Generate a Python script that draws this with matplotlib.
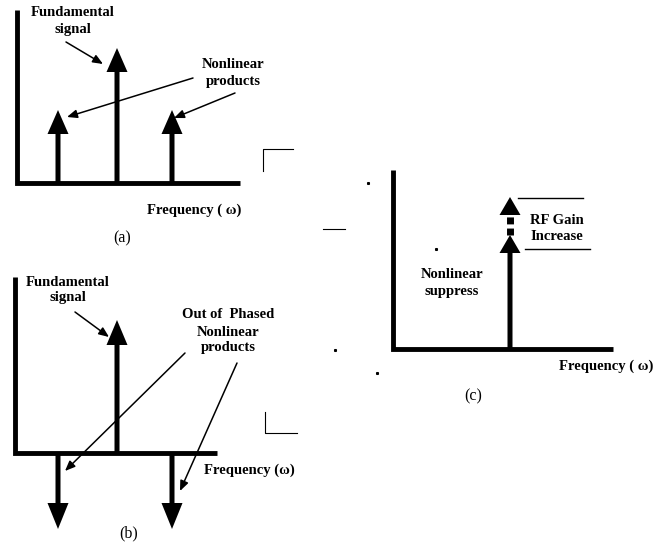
import matplotlib.pyplot as plt

# spike diagram data (pixel frame of the scanned figure)
# panel (a): fundamental + two nonlinear products
a_freq = [58, 117, 172]
a_amp = [73, 135, 73]
# panel (b): fundamental up, out-of-phase products down
b_freq = [58, 117, 172]
b_amp = [-76, 133, -76]
# panel (c): single tone with gain increase
c_freq = [510]
c_amp = [114]
c_gain = 38

W, H = 664, 545
fig = plt.figure(figsize=(W / 100, H / 100), dpi=100)
ax = fig.add_axes([0, 0, 1, 1])
ax.set_xlim(0, W)
ax.set_ylim(H, 0)
ax.axis('off')

BOLD = dict(family='Liberation Serif', fontweight='bold', fontsize=10.5, color='black')
REG = dict(family='Liberation Serif', fontsize=11.5, color='black')
LW_AX = 3.5


def spike(x, y0, amp, head_len=24):
    ax.arrow(x, y0, 0, -amp, width=5, head_width=21, head_length=head_len,
             length_includes_head=True, fc='black', ec='black', lw=0)


def pointer(x0, y0, x1, y1):
    ax.annotate('', xy=(x1, y1), xytext=(x0, y0),
                arrowprops=dict(arrowstyle='-|>,head_length=0.6,head_width=0.25',
                                lw=1.1, color='black', shrinkA=0, shrinkB=0))


def axes_frame(x0, y0, top, right):
    ax.plot([x0, x0, right], [top, y0, y0], color='black', lw=LW_AX,
            solid_joinstyle='miter', solid_capstyle='butt')


# ---- panel (a)
axes_frame(17, 183, 10, 240)
for f, a in zip(a_freq, a_amp):
    spike(f, 183, a)
ax.text(73, 13, 'Fundamental', ha='center', va='center', **BOLD)
ax.text(73, 29, 'signal', ha='center', va='center', **BOLD)
ax.text(233, 65, 'Nonlinear', ha='center', va='center', **BOLD)
ax.text(233, 82, 'products', ha='center', va='center', **BOLD)
pointer(66, 42, 103, 64)
pointer(193, 78, 67, 117)
pointer(235, 93, 174, 118)
ax.text(194, 210, 'Frequency ( ω)', ha='center', va='center', **BOLD)
ax.text(122, 238, '(a)', ha='center', va='center', **REG)
ax.plot([263, 263, 293], [171, 149, 149], color='black', lw=0.8)

# ---- panel (b)
axes_frame(15, 453, 277, 217)
for f, a in zip(b_freq, b_amp):
    spike(f, 453, a, head_len=25 if a > 0 else 26)
ax.text(68, 283, 'Fundamental', ha='center', va='center', **BOLD)
ax.text(68, 298, 'signal', ha='center', va='center', **BOLD)
ax.text(228, 315, 'Out of  Phased', ha='center', va='center', **BOLD)
ax.text(228, 332, 'Nonlinear', ha='center', va='center', **BOLD)
ax.text(228, 348, 'products', ha='center', va='center', **BOLD)
pointer(75, 312, 109, 337)
pointer(185, 353, 65, 471)
pointer(237, 363, 180, 491)
ax.text(249, 470, 'Frequency (ω)', ha='center', va='center', **BOLD)
ax.text(129, 533, '(b)', ha='center', va='center', **REG)
ax.plot([265, 265, 297], [412, 433, 433], color='black', lw=0.8)

# ---- panel (c)
axes_frame(393, 349, 170, 613)
for f, a in zip(c_freq, c_amp):
    spike(f, 349, a, head_len=18)
    top = 349 - a
    ax.plot([f, f], [top, top - c_gain + 18], color='black', lw=5,
            ls=(0, (1.0, 0.6)), solid_capstyle='butt')
    ax.arrow(f, top - c_gain + 18, 0, -18, width=0.1, head_width=21,
             head_length=18, length_includes_head=True, fc='black', ec='black', lw=0)
ax.plot([518, 583], [198, 198], color='black', lw=1.0)
ax.plot([525, 590], [249, 249], color='black', lw=1.0)
ax.text(557, 220, 'RF Gain', ha='center', va='center', **BOLD)
ax.text(557, 236, 'Increase', ha='center', va='center', **BOLD)
ax.text(452, 275, 'Nonlinear', ha='center', va='center', **BOLD)
ax.text(452, 292, 'suppress', ha='center', va='center', **BOLD)
ax.text(606, 366, 'Frequency ( ω)', ha='center', va='center', **BOLD)
ax.text(473, 396, '(c)', ha='center', va='center', **REG)

# scan specks
ax.plot([323, 345], [229, 229], color='black', lw=0.8)
ax.plot([368, 436, 335, 377], [183, 249, 350, 373], 's', color='black', ms=1.2)

fig.savefig('out.png', dpi=100)
